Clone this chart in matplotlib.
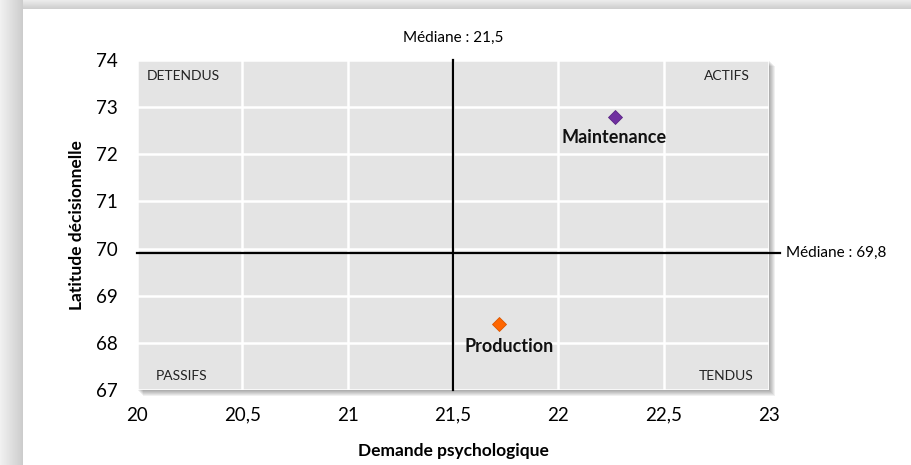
import matplotlib.pyplot as plt
from matplotlib.patches import Rectangle
from matplotlib.ticker import FuncFormatter

plt.rcParams['font.family'] = ['Lato', 'DejaVu Sans']

# data
groups = ['Maintenance', 'Production']
demande = [22.27, 21.72]
latitude = [72.8, 68.4]
colors = ['#7030A0', '#FF6600']
edges = ['#5B2585', '#D95500']
label_offsets = [(-1, -9), (7, -10)]
med_x = 21.5
med_y = 69.9          # position of the line as drawn
med_x_label = 'Médiane : 21,5'
med_y_label = 'Médiane : 69,8'
xticks = [20, 20.5, 21, 21.5, 22, 22.5, 23]
yticks = [67, 68, 69, 70, 71, 72, 73, 74]
corners = [('DETENDUS', 0.015, 0.97, 'left', 'top'), ('ACTIFS', 0.97, 0.97, 'right', 'top'),
           ('PASSIFS', 0.03, 0.025, 'left', 'bottom'), ('TENDUS', 0.975, 0.025, 'right', 'bottom')]

fig = plt.figure(figsize=(9.12, 4.65), dpi=100)
fig.patch.set_facecolor('white')
W, H = 912.0, 465.0

# card shadow (top and left), darker close to the card edge
cx, cy = 23, 9
for i in range(cx):
    a = 0.10 + 0.28 * i / cx
    fig.patches.append(Rectangle((i / W, 0), 1 / W, 1, transform=fig.transFigure,
                                 facecolor='#777777', alpha=a, lw=0, zorder=0))
for j in range(cy):
    a = 0.14 + 0.24 * j / cy
    fig.patches.append(Rectangle((cx / W, 1 - (j + 1) / H), 1, 1 / H, transform=fig.transFigure,
                                 facecolor='#777777', alpha=a, lw=0, zorder=0))

ax = fig.add_axes([137 / W, 1 - 390 / H, 632 / W, 330 / H])
ax.set_zorder(2)

# plot area shadow
pos = ax.get_position()
for k in range(6):
    fig.patches.append(Rectangle((pos.x0 + (1 + k) / W, pos.y0 - (1 + k) / H),
                                 pos.width, pos.height, transform=fig.transFigure,
                                 facecolor='#000000', alpha=0.06, lw=0, zorder=1))

ax.set_facecolor('#e4e4e4')
ax.set_xlim(20, 23)
ax.set_ylim(67, 74)
ax.set_xticks(xticks)
ax.set_yticks(yticks)
fmt = FuncFormatter(lambda v, p: ('%g' % v).replace('.', ','))
ax.xaxis.set_major_formatter(fmt)
ax.yaxis.set_major_formatter(fmt)
ax.tick_params(length=0, labelsize=13.5, colors='#000000')
ax.tick_params(axis='y', pad=14)
ax.tick_params(axis='x', pad=12)
for s in ax.spines.values():
    s.set_visible(False)
ax.grid(True, color='white', lw=1.8)
ax.set_axisbelow(True)

ax.set_xlabel('Demande psychologique', fontsize=12.5, fontweight='bold', labelpad=14)
ax.set_ylabel('Latitude décisionnelle', fontsize=12.5, fontweight='bold', labelpad=8)

# medians
ax.plot([med_x, med_x], [67, 74], color='black', lw=1.6, zorder=3, clip_on=False)
ax.plot([20, 23.05], [med_y, med_y], color='black', lw=1.6, zorder=3, clip_on=False)
ax.text(med_x, 74.33, med_x_label, ha='center', va='bottom', fontsize=11)
ax.text(23.08, med_y, med_y_label, ha='left', va='center', fontsize=11)

# quadrant labels
for name, x, y, ha, va in corners:
    ax.text(x, y, name, transform=ax.transAxes, ha=ha, va=va, fontsize=10, color='#222222')

# points
for g, xv, yv, c, ec, off in zip(groups, demande, latitude, colors, edges, label_offsets):
    ax.plot(xv, yv, marker='D', ms=7, color=c, mec=ec, mew=0.6, ls='none', zorder=4)
    ax.annotate(g, (xv, yv), xytext=off, textcoords='offset points', ha='center', va='top',
                fontsize=13, fontweight='bold', color='#111111')

fig.savefig('out.png', dpi=100)
